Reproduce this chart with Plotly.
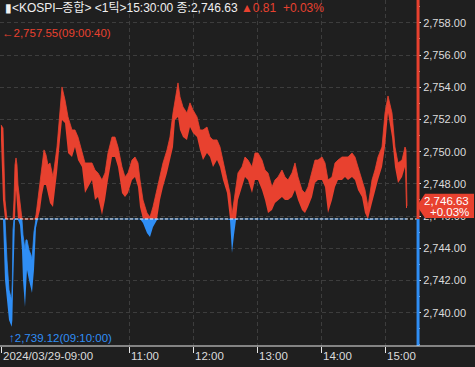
import plotly.graph_objects as go

DATE = "2024-03-29"
PREV_CLOSE = 2745.82
CLOSE = 2746.63
CHANGE = 0.81
CHANGE_PCT = 0.03
HIGH = 2757.55
HIGH_TIME = "09:00:40"
LOW = 2739.12
LOW_TIME = "09:10:00"

times = [
    "09:00:00", "09:01:52", "09:03:45", "09:05:37", "09:07:30", "09:10:00", "09:10:40", "09:11:15",
    "09:12:11", "09:13:07", "09:14:04", "09:15:00", "09:15:56", "09:17:49", "09:19:41", "09:20:37",
    "09:22:30", "09:23:26", "09:24:22", "09:26:15", "09:28:07", "09:29:04", "09:30:56", "09:31:52",
    "09:32:49", "09:34:41", "09:36:34", "09:38:26", "09:40:19", "09:42:11", "09:44:04", "09:45:56",
    "09:48:45", "09:52:30", "09:55:19", "09:57:11", "10:00:00", "10:02:49", "10:06:34", "10:09:22",
    "10:12:11", "10:15:56", "10:18:45", "10:21:34", "10:25:19", "10:28:07", "10:30:56", "10:34:41",
    "10:37:30", "10:40:19", "10:44:04", "10:46:52", "10:49:41", "10:53:26", "10:56:15", "10:59:04",
    "11:02:49", "11:05:37", "11:08:26", "11:10:19", "11:13:07", "11:16:52", "11:19:41", "11:22:30",
    "11:26:15", "11:29:04", "11:31:52", "11:35:37", "11:38:26", "11:41:15", "11:43:07", "11:45:56",
    "11:47:49", "11:50:37", "11:54:22", "11:57:11", "12:00:00", "12:03:45", "12:06:34", "12:09:22",
    "12:13:07", "12:15:56", "12:18:45", "12:22:30", "12:25:19", "12:28:07", "12:31:52", "12:34:41",
    "12:36:34", "12:38:26", "12:40:19", "12:42:11", "12:45:56", "12:48:45", "12:51:34", "12:55:19",
    "12:58:07", "13:00:56", "13:04:41", "13:07:30", "13:10:19", "13:14:04", "13:16:52", "13:19:41",
    "13:23:26", "13:26:15", "13:29:04", "13:32:49", "13:35:37", "13:38:26", "13:42:11", "13:45:00",
    "13:47:49", "13:51:34", "13:54:22", "13:57:11", "14:00:56", "14:03:45", "14:06:34", "14:10:19",
    "14:13:07", "14:15:56", "14:19:41", "14:22:30", "14:25:19", "14:29:04", "14:31:52", "14:34:41",
    "14:38:26", "14:41:15", "14:44:04", "14:47:49", "14:50:37", "14:53:26", "14:57:11", "15:00:00",
    "15:02:49", "15:06:34", "15:09:22", "15:12:11", "15:15:56", "15:18:45", "15:19:41", "15:20:37",
]

high_prices = [
    2751.66, 2751.47, 2747.00, 2743.27, 2741.41, 2740.79, 2742.03, 2745.14,
    2747.00, 2749.17, 2749.61, 2749.17, 2747.93, 2746.69, 2745.76, 2744.83,
    2743.90, 2744.52, 2744.52, 2743.90, 2743.58, 2743.27, 2745.01, 2745.63,
    2746.07, 2747.00, 2748.24, 2749.17, 2750.11, 2749.80, 2749.17, 2749.30,
    2748.43, 2750.29, 2752.40, 2754.02, 2753.21, 2752.16, 2751.35, 2751.35,
    2750.91, 2749.92, 2749.30, 2749.30, 2749.30, 2748.86, 2748.68, 2748.24,
    2748.68, 2749.92, 2750.91, 2750.91, 2750.29, 2749.05, 2748.43, 2748.68,
    2749.48, 2749.67, 2749.30, 2748.24, 2747.00, 2746.19, 2745.94, 2746.57,
    2747.62, 2748.43, 2749.30, 2750.11, 2750.91, 2752.40, 2753.21, 2754.27,
    2753.40, 2752.78, 2752.40, 2753.03, 2752.59, 2752.16, 2751.35, 2751.35,
    2751.53, 2750.91, 2750.73, 2750.73, 2750.29, 2749.48, 2748.43, 2747.43,
    2746.07, 2747.00, 2747.62, 2748.68, 2749.05, 2749.67, 2749.48, 2749.05,
    2749.92, 2749.92, 2749.48, 2748.86, 2748.68, 2747.81, 2748.24, 2748.43,
    2748.86, 2748.43, 2748.24, 2748.68, 2749.30, 2748.43, 2747.62, 2747.43,
    2747.81, 2748.68, 2749.48, 2749.48, 2749.67, 2749.30, 2748.24, 2748.43,
    2749.30, 2749.48, 2749.67, 2749.67, 2749.67, 2749.92, 2749.67, 2749.05,
    2748.24, 2747.62, 2746.57, 2748.24, 2748.86, 2749.67, 2750.29, 2752.40,
    2753.46, 2752.40, 2750.29, 2749.30, 2749.48, 2750.29, 2750.11, 2746.63,
]

low_prices = [
    2750.73, 2747.00, 2742.03, 2740.79, 2739.55, 2739.12, 2739.55, 2741.41,
    2744.52, 2745.76, 2747.62, 2746.38, 2745.76, 2745.45, 2743.90, 2742.03,
    2740.35, 2742.03, 2742.65, 2742.03, 2741.41, 2741.22, 2742.65, 2744.52,
    2745.26, 2745.88, 2746.38, 2747.31, 2747.93, 2747.93, 2747.31, 2746.81,
    2746.57, 2748.68, 2750.73, 2751.97, 2751.78, 2749.92, 2749.67, 2750.29,
    2749.48, 2749.05, 2747.43, 2747.81, 2748.24, 2747.00, 2747.19, 2746.07,
    2747.00, 2748.24, 2749.67, 2749.67, 2749.05, 2747.43, 2747.19, 2747.43,
    2748.24, 2748.43, 2747.81, 2746.57, 2745.57, 2744.95, 2744.70, 2745.32,
    2745.76, 2747.00, 2747.81, 2748.68, 2749.48, 2750.29, 2751.97, 2752.16,
    2751.35, 2750.91, 2750.73, 2751.53, 2751.16, 2750.91, 2750.11, 2749.48,
    2749.92, 2749.67, 2749.05, 2749.48, 2749.05, 2748.24, 2747.43, 2745.76,
    2743.71, 2744.83, 2745.76, 2747.00, 2747.81, 2748.43, 2748.24, 2747.43,
    2748.24, 2748.24, 2747.62, 2747.00, 2746.19, 2746.38, 2746.81, 2747.00,
    2747.19, 2747.00, 2747.00, 2747.19, 2747.62, 2747.00, 2746.38, 2746.19,
    2746.57, 2747.19, 2748.06, 2748.24, 2748.24, 2747.81, 2746.19, 2747.00,
    2747.81, 2748.24, 2748.24, 2748.43, 2748.24, 2748.43, 2748.24, 2747.62,
    2747.19, 2746.19, 2745.76, 2746.81, 2747.62, 2748.24, 2749.05, 2750.29,
    2752.40, 2750.91, 2749.05, 2748.06, 2748.43, 2749.05, 2746.50, 2746.50,
]

tick_times = ["09:00", "11:00", "12:00", "13:00", "14:00", "15:00"]
tick_labels = ["2024/03/29-09:00", "11:00", "12:00", "13:00", "14:00", "15:00"]
y_ticks = [2740, 2742, 2744, 2746, 2748, 2750, 2752, 2754, 2756, 2758]

BG = "#1f1f1f"
RED = "#e8412f"
BLUE = "#2f8ef5"
TXT = "#dcdcdc"
GRID = "#3d3d3d"
FONT = "Liberation Sans, Noto Sans CJK KR, sans-serif"

x = [f"{DATE} {t}" for t in times]
red_lo = [max(v, PREV_CLOSE) for v in low_prices]
red_hi = [max(v, PREV_CLOSE) for v in high_prices]
blue_hi = [min(v, PREV_CLOSE) for v in high_prices]
blue_lo = [min(v, PREV_CLOSE) for v in low_prices]

Y_MIN, Y_MAX = 2737.93, 2759.42

fig = go.Figure()
for lo, hi, col in [(red_lo, red_hi, RED), (blue_lo, blue_hi, BLUE)]:
    fig.add_trace(go.Scatter(x=x, y=lo, mode="lines", line=dict(width=0, color=col),
                             hoverinfo="skip", showlegend=False))
    fig.add_trace(go.Scatter(x=x, y=hi, mode="lines", line=dict(width=0.8, color=col),
                             fill="tonexty", fillcolor=col, hoverinfo="skip", showlegend=False))

shapes = [
    # previous close dashed line
    dict(type="line", xref="paper", x0=0, x1=1, yref="y", y0=PREV_CLOSE, y1=PREV_CLOSE,
         line=dict(color="#f0f0f0", width=1, dash="3px,2px"), layer="above"),
    # right axis line, red above / blue below previous close
    dict(type="line", xref="paper", x0=1.0025, x1=1.0025, yref="y", y0=PREV_CLOSE, y1=Y_MAX,
         line=dict(color=RED, width=3)),
    dict(type="line", xref="paper", x0=1.0025, x1=1.0025, yref="y", y0=Y_MIN, y1=PREV_CLOSE,
         line=dict(color=BLUE, width=3)),
    # bottom axis line across the full width
    dict(type="line", xref="paper", x0=0, x1=475 / 417, yref="paper", y0=0, y1=0,
         line=dict(color="#e8e8e8", width=1)),
]
# current price label box with a pointer
bx0, bx1, bxn = 1.0, 474 / 417, 425 / 417
yt, yb = CLOSE + 0.75, CLOSE - 0.75
shapes.append(dict(type="path", xref="paper", yref="y",
                   path=f"M {bx0},{CLOSE} L {bxn},{yt} L {bx1},{yt} L {bx1},{yb} L {bxn},{yb} Z",
                   fillcolor=RED, line=dict(width=0), layer="above"))

annotations = []
for tv, tl in zip(tick_times, tick_labels):
    annotations.append(dict(x=f"{DATE} {tv}:00", xref="x", y=-0.029, yref="paper", text=tl,
                            showarrow=False, xanchor="left", yanchor="middle", xshift=0,
                            font=dict(family=FONT, size=11.5, color=TXT)))

header = (f"▮&lt;KOSPI–종합&gt; &lt;1틱&gt;15:30:00 종:{CLOSE:,.2f} "
          f"<span style='color:{RED}'>▲{CHANGE:.2f}  +{CHANGE_PCT:.2f}%</span>")
annotations.append(dict(x=0.006, xref="paper", y=1 - 8 / 346, yref="paper", text=header,
                        showarrow=False, xanchor="left", yanchor="middle",
                        font=dict(family=FONT, size=12, color="#f0f0f0")))
annotations.append(dict(x=0.0, xref="paper", y=1 - 33 / 346, yref="paper",
                        text=f"←{HIGH:,.2f}({HIGH_TIME})", showarrow=False,
                        xanchor="left", yanchor="middle",
                        font=dict(family=FONT, size=11.5, color=RED)))
annotations.append(dict(x=0.017, xref="paper", y=1 - 338 / 346, yref="paper",
                        text=f"↑{LOW:,.2f}({LOW_TIME})", showarrow=False,
                        xanchor="left", yanchor="middle",
                        font=dict(family=FONT, size=11.5, color=BLUE)))
annotations.append(dict(x=471 / 417, xref="paper", y=CLOSE, yref="y", yshift=5,
                        text=f"{CLOSE:,.2f}", showarrow=False, xanchor="right", yanchor="middle",
                        font=dict(family=FONT, size=11.5, color="#ffffff")))
annotations.append(dict(x=471 / 417, xref="paper", y=CLOSE, yref="y", yshift=-6,
                        text=f"+{CHANGE_PCT:.2f}%", showarrow=False, xanchor="right", yanchor="middle",
                        font=dict(family=FONT, size=11.5, color="#ffffff")))

fig.update_layout(
    width=475, height=367,
    margin=dict(l=0, r=58, t=0, b=21),
    paper_bgcolor=BG, plot_bgcolor=BG,
    showlegend=False,
    shapes=shapes, annotations=annotations,
    xaxis=dict(type="date", range=[f"{DATE} 08:59:04", f"{DATE} 15:30:00"],
               tickvals=[f"{DATE} {t}:00" for t in tick_times], showticklabels=False,
               ticks="outside", ticklen=6, tickcolor="#e8e8e8", tickwidth=1,
               showgrid=True, gridcolor=GRID, griddash="4px,3px", gridwidth=1,
               zeroline=False, showline=False, fixedrange=True),
    yaxis=dict(side="right", range=[Y_MIN, Y_MAX], tickvals=y_ticks, tickformat=",.2f",
               ticks="outside", ticklen=3, tickcolor="#e8e8e8",
               tickfont=dict(family=FONT, size=11, color=TXT),
               showgrid=True, gridcolor=GRID, griddash="4px,3px", gridwidth=1,
               minor=dict(dtick=1, tick0=2741, ticks="outside", ticklen=2, tickcolor="#bbbbbb", showgrid=False),
               zeroline=False, showline=False, fixedrange=True),
)

fig.write_html("out.html")
